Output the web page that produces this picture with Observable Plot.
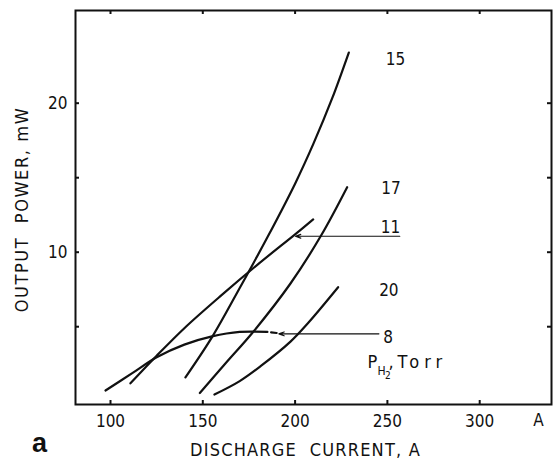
<!DOCTYPE html>
<html><head><meta charset="utf-8">
<script src="https://cdn.jsdelivr.net/npm/d3@7"></script>
<script src="https://cdn.jsdelivr.net/npm/@observablehq/plot@0.6"></script>
<style>body{margin:0;background:#fff}</style>
</head><body><div id="chart"></div>
<script>
// Tick values
const xTicks = [100, 150, 200, 250, 300];
const yTicks = [5, 10, 15, 20];
const yLabelTicks = [10, 20];

// Output power (mW) vs discharge current (A), per H2 pressure (Torr)
const curve15 = [[140.6,1.6],[155,4.3],[170,7.6],[185,11.0],[200,14.6],[210,17.3],[220,20.3],[229.1,23.4]];
const curve17 = [[148.4,0.55],[162,2.5],[177.6,4.7],[197.5,7.9],[214,11.1],[228.2,14.36]];
const curve11 = [[110.8,1.2],[125,3.05],[140,4.9],[160,7.1],[180,9.2],[200,11.2],[209.8,12.2]];
const curve20 = [[156.3,0.45],[170,1.35],[181.3,2.35],[197.5,4.0],[207.4,5.3],[223.3,7.65]];
const curve8  = [[97.3,0.72],[112,1.9],[125,2.95],[140,3.8],[155,4.35],[170,4.65],[185,4.65]];
const curve8Dash = [[187,4.62],[190,4.58]];

// Curve labels
const labelNames = ["15", "17", "11", "20", "8"];
const labelX = [254.4, 252, 251.7, 250.8, 250.4];
const labelY = [22.9, 14.25, 11.68, 7.43, 4.3];

// Leader arrows (from label to curve)
const pointerFrom = [256.7, 245.4];
const pointerTo = [200.2, 191.2];
const pointerY = [11.07, 4.52];

// Legend text position
const legendX = 239.2, legendY = 2.63;
const unitX = 331.8;

const series = [
  {name:"15", pts:curve15},{name:"17", pts:curve17},{name:"11", pts:curve11},
  {name:"20", pts:curve20},{name:"8", pts:curve8}
];
const lineData = series.flatMap(s => s.pts.map(([x,y]) => ({name:s.name, x, y})));
const labels = labelNames.map((t,i) => ({t, x:labelX[i], y:labelY[i]}));
const pointers = pointerFrom.map((x1,i) => ({x1, x2:pointerTo[i], y:pointerY[i]}));

const W = 553, H = 465, mL = 75, mR = 2, mT = 10, mB = 61;
const innerW = W - mL - mR, innerH = H - mT - mB;
const font = '"Liberation Sans Narrow","DejaVu Sans Condensed",sans-serif';

const chart = Plot.plot({
  width: W, height: H,
  marginLeft: mL, marginRight: mR, marginTop: mT, marginBottom: mB,
  style: {fontFamily: font, fontSize: "17px", color: "#111", background: "#fff"},
  x: {domain: [81.04, 338.9]},
  y: {domain: [-0.22, 26.22]},
  marks: [
    Plot.frame({stroke: "#111", strokeWidth: 2}),
    Plot.axisX(xTicks, {tickSize: 0, tickPadding: 10, fontSize: 17, label: null}),
    Plot.axisY(yLabelTicks, {tickSize: 0, tickPadding: 8, fontSize: 17, label: null}),
    Plot.tickX(xTicks, {x: d => d, insetTop: innerH - 4, strokeWidth: 2}),
    Plot.tickX(xTicks, {x: d => d, insetBottom: innerH - 4, strokeWidth: 2}),
    Plot.tickY(yTicks, {y: d => d, insetRight: innerW - 4, strokeWidth: 2}),
    Plot.tickY(yTicks, {y: d => d, insetLeft: innerW - 4, strokeWidth: 2}),
    Plot.line(lineData, {x: "x", y: "y", z: "name", curve: "catmull-rom", stroke: "#111", strokeWidth: 2.2}),
    Plot.line(curve8Dash, {x: d => d[0], y: d => d[1], stroke: "#111", strokeWidth: 2.2}),
    Plot.arrow(pointers, {x1: "x1", x2: "x2", y1: "y", y2: "y", stroke: "#111", strokeWidth: 1.2, headLength: 7, headAngle: 40}),
    Plot.text(labels, {x: "x", y: "y", text: "t", fontSize: 17, fill: "#111"}),
    Plot.text(["P"], {x: () => legendX, y: () => legendY, textAnchor: "start", fontSize: 18}),
    Plot.text(["H"], {x: () => legendX, y: () => legendY, textAnchor: "start", fontSize: 12, dx: 10, dy: 9}),
    Plot.text(["2"], {x: () => legendX, y: () => legendY, textAnchor: "start", fontSize: 10, dx: 17.5, dy: 14}),
    Plot.text([","], {x: () => legendX, y: () => legendY, textAnchor: "start", fontSize: 18, dx: 21}),
    Plot.text(["Torr"], {x: () => legendX, y: () => legendY, textAnchor: "start", fontSize: 18, dx: 30}),
    Plot.text(["A"], {x: () => unitX, frameAnchor: "bottom", dy: 16, lineAnchor: "middle", fontSize: 17}),
    Plot.text(["DISCHARGE  CURRENT, A"], {frameAnchor: "bottom", dx: -8, dy: 46, lineAnchor: "middle", textAnchor: "middle", fontSize: 18}),
    Plot.text(["OUTPUT  POWER, mW"], {frameAnchor: "left", dx: -53, dy: 2, rotate: -90, lineAnchor: "middle", textAnchor: "middle", fontSize: 18}),
    Plot.text(["a"], {frameAnchor: "bottom-left", dx: -36, dy: 39, lineAnchor: "middle", textAnchor: "middle", fontSize: 27, fontWeight: "bold", fontFamily: '"Liberation Sans",Arial,sans-serif'})
  ]
});
// letter spacing styling to match the plotter lettering
const spacing = {"Torr": 5, "DISCHARGE  CURRENT, A": 1.2, "OUTPUT  POWER, mW": 1.6};
d3.select(chart).selectAll("text").each(function() {
  const s = spacing[this.textContent];
  if (s) d3.select(this).attr("letter-spacing", s);
});
document.getElementById("chart").appendChild(chart);
</script>
</body></html>
